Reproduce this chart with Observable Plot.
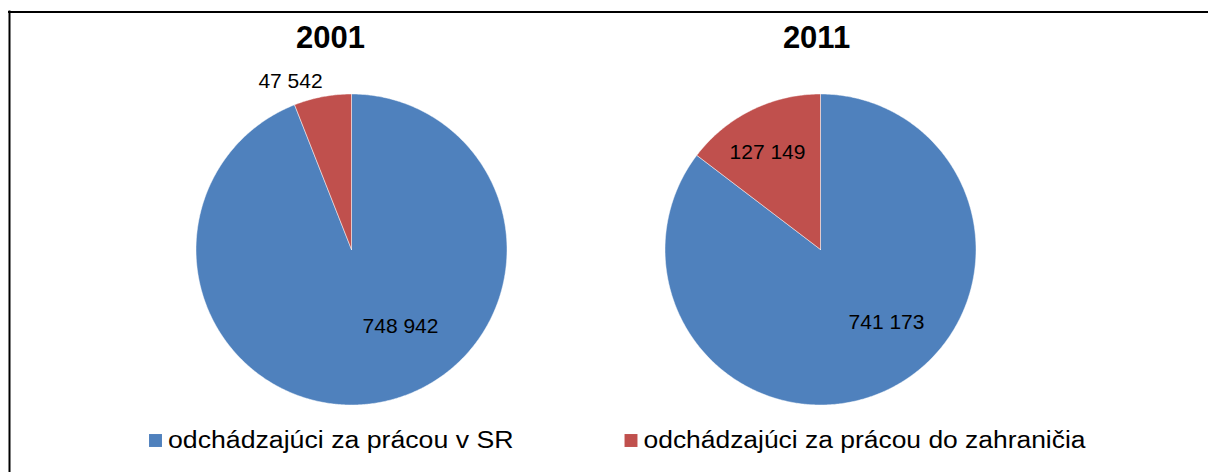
<!DOCTYPE html>
<html><head><meta charset="utf-8">
<script src="https://cdn.jsdelivr.net/npm/d3@7"></script>
<script src="https://cdn.jsdelivr.net/npm/@observablehq/plot@0.6"></script>
<style>body{margin:0;background:#fff;}</style>
</head><body><div id="chart"></div>
<script>
// ---- data ----
const years = ["2001", "2011"];
const categories = ["odchádzajúci za prácou v SR", "odchádzajúci za prácou do zahraničia"];
const domestic = [748942, 741173];
const abroad = [47542, 127149];
const colors = ["#4F81BD", "#C0504D"];

// ---- layout ----
const W = 1208, H = 472;
const pieCx = [351, 820], pieCy = 249, pieR = 155.5;
const titleX = [330, 816], titleY = 38;
const labelPos = [[[400, 326], [290, 80.5]], [[886, 322], [767, 152]]]; // [year][category]
const legendX = [155, 630.5], legendY = 440, legendGap = 12.5;
const legendEnd = [513, 1085];

const fmt = v => d3.format(",")(v).replace(/,/g, " ");

const slices = [], labels = [];
years.forEach((yr, i) => {
  const vals = [domestic[i], abroad[i]];
  const arcs = d3.pie().sort(null)(vals);
  arcs.forEach((a, j) => {
    const id = yr + "-" + j, cat = categories[j];
    const cx = pieCx[i], cy = pieCy;
    const n = Math.max(2, Math.ceil((a.endAngle - a.startAngle) / (Math.PI / 360)));
    slices.push({id, cat, x: cx, y: cy});
    for (let k = 0; k <= n; k++) {
      const t = a.startAngle + (a.endAngle - a.startAngle) * k / n;
      slices.push({id, cat, x: cx + pieR * Math.sin(t), y: cy - pieR * Math.cos(t)});
    }
    slices.push({id, cat, x: cx, y: cy});
    labels.push({text: fmt(vals[j]), x: labelPos[i][j][0], y: labelPos[i][j][1]});
  });
});

const chart = Plot.plot({
  width: W, height: H, margin: 0,
  x: {domain: [0, W], range: [0, W], axis: null},
  y: {domain: [0, H], range: [0, H], axis: null},
  color: {domain: categories, range: colors},
  style: {fontFamily: "'Liberation Sans', Arial, sans-serif", background: "#fff", color: "#000"},
  marks: [
    Plot.ruleY([11.5], {x1: 8, x2: W, stroke: "#000", strokeWidth: 2}),
    Plot.ruleX([9], {y1: 10.5, y2: H, stroke: "#000", strokeWidth: 2}),
    Plot.line(slices, {x: "x", y: "y", z: "id", fill: "cat", stroke: "#fff", strokeWidth: 0.6, strokeOpacity: 0.8, curve: "linear"}),
    Plot.text(years, {x: (d, i) => titleX[i], y: titleY, text: d => d, fontWeight: "bold", fontSize: 31, fill: "#000"}),
    Plot.text(labels, {x: "x", y: "y", text: "text", fontSize: 21, fill: "#000"}),
    Plot.dot(categories, {x: (d, i) => legendX[i], y: legendY, symbol: "square", r: 7.3, fill: d => d, stroke: null}),
    Plot.text(categories, {x: (d, i) => legendX[i] + legendGap, y: legendY, text: d => d, textAnchor: "start", fontSize: 23, fill: "#000"})
  ]
});
document.getElementById("chart").appendChild(chart);
d3.select(chart).selectAll("text").filter(function() { return categories.includes(this.textContent); })
  .each(function() {
    const i = categories.indexOf(this.textContent);
    const target = legendEnd[i] - (legendX[i] + legendGap);
    d3.select(this).attr("textLength", target).attr("lengthAdjust", "spacingAndGlyphs");
  });
</script>
</body></html>
